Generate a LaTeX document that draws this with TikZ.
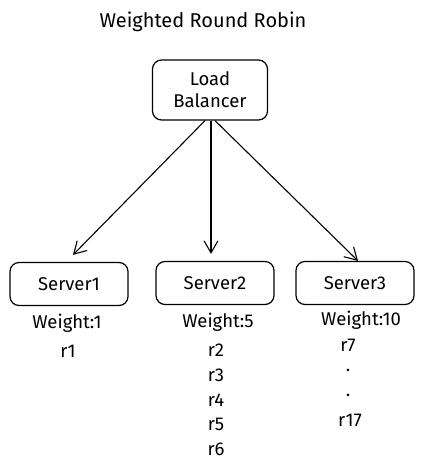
\documentclass[tikz,border=0pt]{standalone}
\usepackage{fontspec}
\setmainfont{Fira Sans}
\usepackage{tikz}
\usetikzlibrary{positioning}
\usetikzlibrary{arrows.meta,shapes}

\tikzset{
  box/.style={draw, line width=1.2pt, rounded corners=9pt, minimum width=118pt, minimum height=43pt, font=\fontsize{18.5}{22}\selectfont},
  lbl/.style={font=\fontsize{18.5}{22}\selectfont, inner sep=0pt},
  req/.style={->, >={Straight Barb[length=12pt,width=14pt]}, line width=1.1pt}
}

\begin{document}
\begin{tikzpicture}[x=1pt,y=-1pt]
 \useasboundingbox (0,0) rectangle (423,472);

 \node[lbl, font=\fontsize{20}{24}\selectfont] (title) at (203,22) {Weighted Round Robin};

 \node[box, minimum width=115pt, minimum height=60pt, align=center] (lb) at (210,90) {Load\\Balancer};

 %servers
 \node[box] (s1) at (69,284) {Server1};
 \node[box] (s2) at (215,283) {Server2};
 \node[box] (s3) at (355,283) {Server3};

 %weights
 \node[lbl] (w1) at (67,323) {Weight:1};
 \node[lbl] (w2) at (218,322) {Weight:5};
 \node[lbl] (w3) at (361,320) {Weight:10};

 %requests
 \node[lbl] (r1) at (68,351) {r1};
 \foreach \i/\y in {2/350,3/375,4/400,5/424,6/449} {
   \node[lbl] (r\i) at (216,\y) {r\i};
 }
 \node[lbl] (r7) at (348,345) {r7};
 \node[lbl] (d1) at (348,370) {.};
 \node[lbl] (d2) at (348,395) {.};
 \node[lbl] (r17) at (350,420) {r17};

 % lines
 \draw[req] ([xshift=-5pt]lb.south) -- ([xshift=4pt, yshift=7pt]s1.north);
 \draw[req] ([xshift=1pt]lb.south) -- ([xshift=-4pt, yshift=7pt]s2.north);
 \draw[req] ([xshift=5pt]lb.south) -- ([xshift=3pt]s3.north);

\end{tikzpicture}
\end{document}
